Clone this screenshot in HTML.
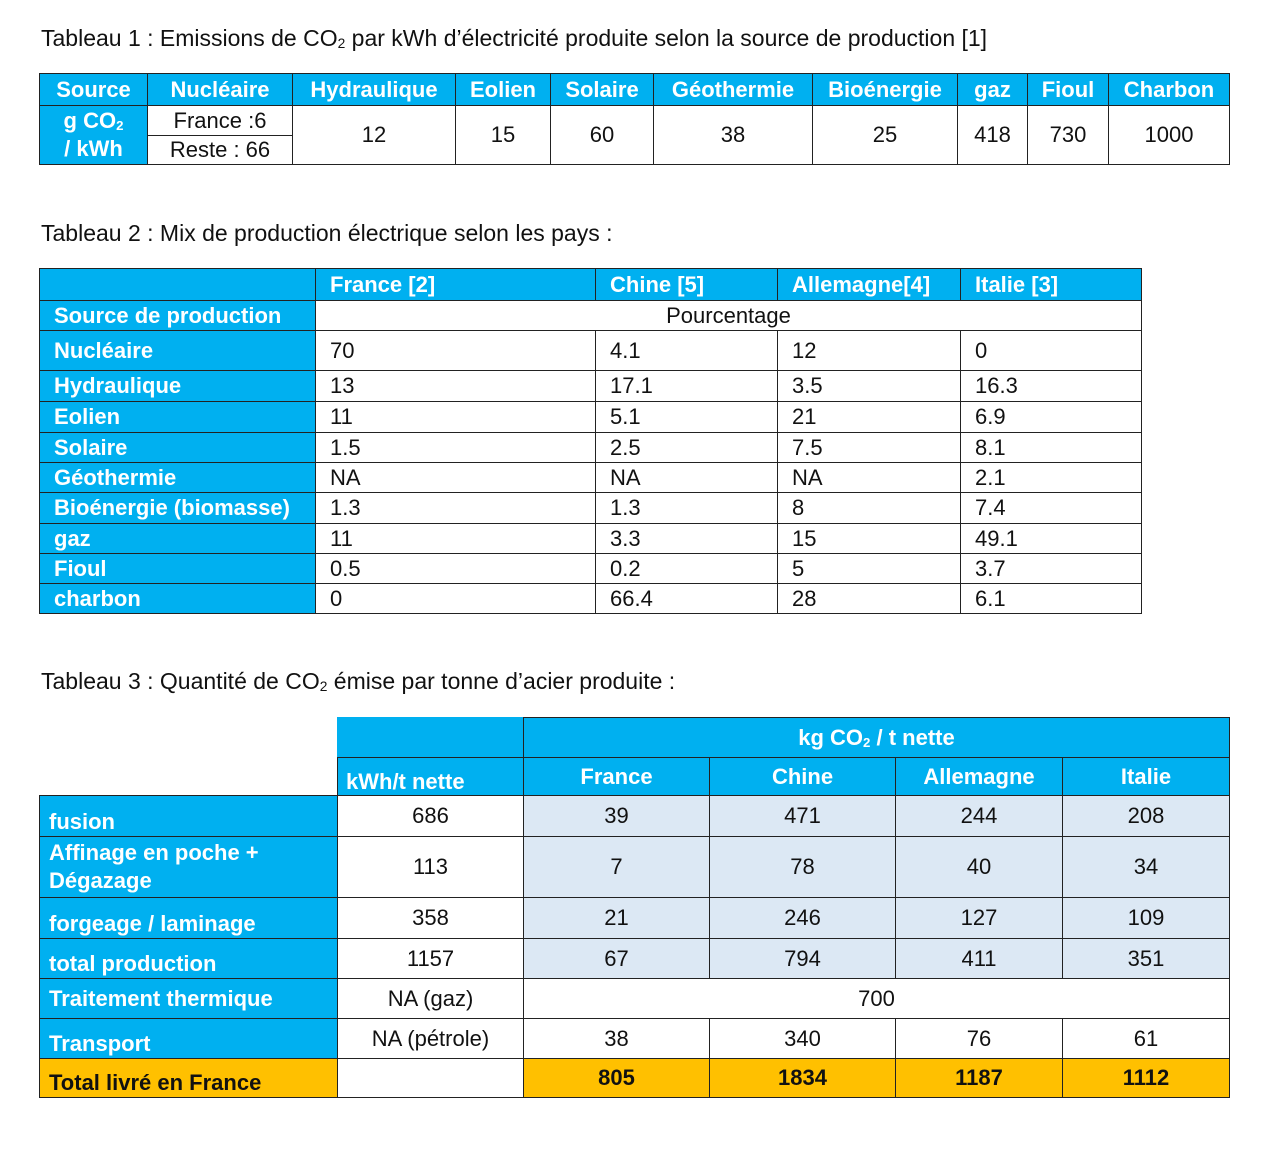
<!DOCTYPE html>
<html><head><meta charset="utf-8"><style>
body{margin:0;width:1280px;height:1153px;background:#fff;position:relative;overflow:hidden;font-family:"Liberation Sans Narrow","Liberation Sans",sans-serif;color:#111}
.t{position:absolute;font-size:23px;left:41px;white-space:nowrap}
.c{position:absolute;box-sizing:border-box;border:1.5px solid #222;display:flex;align-items:center;justify-content:center;font-size:22px;white-space:nowrap;line-height:1}
.b{background:#00b0f0;color:#fff;font-weight:bold}
.l{justify-content:flex-start;padding-left:14px}
.lb{background:#dce8f4}
.o{background:#ffc000;font-weight:bold}
sub{font-size:60%;vertical-align:-2px;line-height:0}
</style></head><body>
<div class="t" style="top:25px">Tableau 1 : Emissions de CO<sub>2</sub> par kWh d’électricité produite selon la source de production [1]</div>
<!-- table 1 -->
<div class="c b" style="left:39px;top:73px;width:109px;height:33px">Source</div>
<div class="c b" style="left:147px;top:73px;width:146px;height:33px">Nucléaire</div>
<div class="c b" style="left:292px;top:73px;width:164px;height:33px">Hydraulique</div>
<div class="c b" style="left:455px;top:73px;width:96px;height:33px">Eolien</div>
<div class="c b" style="left:550px;top:73px;width:104px;height:33px">Solaire</div>
<div class="c b" style="left:653px;top:73px;width:160px;height:33px">Géothermie</div>
<div class="c b" style="left:812px;top:73px;width:146px;height:33px">Bioénergie</div>
<div class="c b" style="left:957px;top:73px;width:71px;height:33px">gaz</div>
<div class="c b" style="left:1027px;top:73px;width:82px;height:33px">Fioul</div>
<div class="c b" style="left:1108px;top:73px;width:122px;height:33px">Charbon</div>
<div class="c b" style="left:39px;top:105px;width:109px;height:60px"><span style="display:block;text-align:center;line-height:28px">g CO<sub>2</sub><br>/ kWh</span></div>
<div class="c" style="left:147px;top:105px;width:146px;height:31px">France :6</div>
<div class="c" style="left:147px;top:135px;width:146px;height:30px">Reste : 66</div>
<div class="c" style="left:292px;top:105px;width:164px;height:60px">12</div>
<div class="c" style="left:455px;top:105px;width:96px;height:60px">15</div>
<div class="c" style="left:550px;top:105px;width:104px;height:60px">60</div>
<div class="c" style="left:653px;top:105px;width:160px;height:60px">38</div>
<div class="c" style="left:812px;top:105px;width:146px;height:60px">25</div>
<div class="c" style="left:957px;top:105px;width:71px;height:60px">418</div>
<div class="c" style="left:1027px;top:105px;width:82px;height:60px">730</div>
<div class="c" style="left:1108px;top:105px;width:122px;height:60px">1000</div>

<div class="t" style="top:220px">Tableau 2 : Mix de production électrique selon les pays :</div>
<!-- table 2 -->
<div class="c b" style="left:39px;top:268px;width:277px;height:33px"></div>
<div class="c b l" style="left:315px;top:268px;width:281px;height:33px">France [2]</div>
<div class="c b l" style="left:595px;top:268px;width:183px;height:33px">Chine [5]</div>
<div class="c b l" style="left:777px;top:268px;width:184px;height:33px">Allemagne[4]</div>
<div class="c b l" style="left:960px;top:268px;width:182px;height:33px">Italie [3]</div>
<div class="c b l" style="left:39px;top:300px;width:277px;height:31px">Source de production</div>
<div class="c" style="left:315px;top:300px;width:827px;height:31px">Pourcentage</div>

<div class="c b l" style="left:39px;top:330px;width:277px;height:41px">Nucléaire</div>
<div class="c l" style="left:315px;top:330px;width:281px;height:41px">70</div>
<div class="c l" style="left:595px;top:330px;width:183px;height:41px">4.1</div>
<div class="c l" style="left:777px;top:330px;width:184px;height:41px">12</div>
<div class="c l" style="left:960px;top:330px;width:182px;height:41px">0</div>

<div class="c b l" style="left:39px;top:370px;width:277px;height:32px">Hydraulique</div>
<div class="c l" style="left:315px;top:370px;width:281px;height:32px">13</div>
<div class="c l" style="left:595px;top:370px;width:183px;height:32px">17.1</div>
<div class="c l" style="left:777px;top:370px;width:184px;height:32px">3.5</div>
<div class="c l" style="left:960px;top:370px;width:182px;height:32px">16.3</div>

<div class="c b l" style="left:39px;top:401px;width:277px;height:32px">Eolien</div>
<div class="c l" style="left:315px;top:401px;width:281px;height:32px">11</div>
<div class="c l" style="left:595px;top:401px;width:183px;height:32px">5.1</div>
<div class="c l" style="left:777px;top:401px;width:184px;height:32px">21</div>
<div class="c l" style="left:960px;top:401px;width:182px;height:32px">6.9</div>

<div class="c b l" style="left:39px;top:432px;width:277px;height:31px">Solaire</div>
<div class="c l" style="left:315px;top:432px;width:281px;height:31px">1.5</div>
<div class="c l" style="left:595px;top:432px;width:183px;height:31px">2.5</div>
<div class="c l" style="left:777px;top:432px;width:184px;height:31px">7.5</div>
<div class="c l" style="left:960px;top:432px;width:182px;height:31px">8.1</div>

<div class="c b l" style="left:39px;top:462px;width:277px;height:31px">Géothermie</div>
<div class="c l" style="left:315px;top:462px;width:281px;height:31px">NA</div>
<div class="c l" style="left:595px;top:462px;width:183px;height:31px">NA</div>
<div class="c l" style="left:777px;top:462px;width:184px;height:31px">NA</div>
<div class="c l" style="left:960px;top:462px;width:182px;height:31px">2.1</div>

<div class="c b l" style="left:39px;top:492px;width:277px;height:32px">Bioénergie (biomasse)</div>
<div class="c l" style="left:315px;top:492px;width:281px;height:32px">1.3</div>
<div class="c l" style="left:595px;top:492px;width:183px;height:32px">1.3</div>
<div class="c l" style="left:777px;top:492px;width:184px;height:32px">8</div>
<div class="c l" style="left:960px;top:492px;width:182px;height:32px">7.4</div>

<div class="c b l" style="left:39px;top:523px;width:277px;height:31px">gaz</div>
<div class="c l" style="left:315px;top:523px;width:281px;height:31px">11</div>
<div class="c l" style="left:595px;top:523px;width:183px;height:31px">3.3</div>
<div class="c l" style="left:777px;top:523px;width:184px;height:31px">15</div>
<div class="c l" style="left:960px;top:523px;width:182px;height:31px">49.1</div>

<div class="c b l" style="left:39px;top:553px;width:277px;height:31px">Fioul</div>
<div class="c l" style="left:315px;top:553px;width:281px;height:31px">0.5</div>
<div class="c l" style="left:595px;top:553px;width:183px;height:31px">0.2</div>
<div class="c l" style="left:777px;top:553px;width:184px;height:31px">5</div>
<div class="c l" style="left:960px;top:553px;width:182px;height:31px">3.7</div>

<div class="c b l" style="left:39px;top:583px;width:277px;height:31px">charbon</div>
<div class="c l" style="left:315px;top:583px;width:281px;height:31px">0</div>
<div class="c l" style="left:595px;top:583px;width:183px;height:31px">66.4</div>
<div class="c l" style="left:777px;top:583px;width:184px;height:31px">28</div>
<div class="c l" style="left:960px;top:583px;width:182px;height:31px">6.1</div>

<div class="t" style="top:668px">Tableau 3 : Quantité de CO<sub>2</sub> émise par tonne d’acier produite :</div>
<!-- table 3 -->
<div class="c b" style="left:337px;top:717px;width:187px;height:41px;border-color:#00b0f0"></div>
<div class="c b" style="left:523px;top:717px;width:707px;height:41px"><span>kg CO<sub>2</sub> / t nette</span></div>
<div class="c b" style="left:337px;top:757px;width:187px;height:39px;justify-content:flex-start;padding-left:8px;align-items:flex-end;padding-bottom:2px">kWh/t nette</div>
<div class="c b" style="left:523px;top:757px;width:187px;height:39px">France</div>
<div class="c b" style="left:709px;top:757px;width:187px;height:39px">Chine</div>
<div class="c b" style="left:895px;top:757px;width:168px;height:39px">Allemagne</div>
<div class="c b" style="left:1062px;top:757px;width:168px;height:39px">Italie</div>

<div class="c b l" style="left:39px;top:795px;width:299px;height:42px;padding-left:9px;align-items:flex-end;padding-bottom:3px">fusion</div>
<div class="c" style="left:337px;top:795px;width:187px;height:42px">686</div>
<div class="c lb" style="left:523px;top:795px;width:187px;height:42px">39</div>
<div class="c lb" style="left:709px;top:795px;width:187px;height:42px">471</div>
<div class="c lb" style="left:895px;top:795px;width:168px;height:42px">244</div>
<div class="c lb" style="left:1062px;top:795px;width:168px;height:42px">208</div>

<div class="c b l" style="left:39px;top:836px;width:299px;height:62px;padding-left:9px"><span style="display:block;line-height:28px">Affinage en poche +<br>Dégazage</span></div>
<div class="c" style="left:337px;top:836px;width:187px;height:62px">113</div>
<div class="c lb" style="left:523px;top:836px;width:187px;height:62px">7</div>
<div class="c lb" style="left:709px;top:836px;width:187px;height:62px">78</div>
<div class="c lb" style="left:895px;top:836px;width:168px;height:62px">40</div>
<div class="c lb" style="left:1062px;top:836px;width:168px;height:62px">34</div>

<div class="c b l" style="left:39px;top:897px;width:299px;height:42px;padding-left:9px;align-items:flex-end;padding-bottom:3px">forgeage / laminage</div>
<div class="c" style="left:337px;top:897px;width:187px;height:42px">358</div>
<div class="c lb" style="left:523px;top:897px;width:187px;height:42px">21</div>
<div class="c lb" style="left:709px;top:897px;width:187px;height:42px">246</div>
<div class="c lb" style="left:895px;top:897px;width:168px;height:42px">127</div>
<div class="c lb" style="left:1062px;top:897px;width:168px;height:42px">109</div>

<div class="c b l" style="left:39px;top:938px;width:299px;height:41px;padding-left:9px;align-items:flex-end;padding-bottom:3px">total production</div>
<div class="c" style="left:337px;top:938px;width:187px;height:41px">1157</div>
<div class="c lb" style="left:523px;top:938px;width:187px;height:41px">67</div>
<div class="c lb" style="left:709px;top:938px;width:187px;height:41px">794</div>
<div class="c lb" style="left:895px;top:938px;width:168px;height:41px">411</div>
<div class="c lb" style="left:1062px;top:938px;width:168px;height:41px">351</div>

<div class="c b l" style="left:39px;top:978px;width:299px;height:41px;padding-left:9px">Traitement thermique</div>
<div class="c" style="left:337px;top:978px;width:187px;height:41px">NA (gaz)</div>
<div class="c" style="left:523px;top:978px;width:707px;height:41px">700</div>

<div class="c b l" style="left:39px;top:1018px;width:299px;height:41px;padding-left:9px;align-items:flex-end;padding-bottom:3px">Transport</div>
<div class="c" style="left:337px;top:1018px;width:187px;height:41px">NA (pétrole)</div>
<div class="c" style="left:523px;top:1018px;width:187px;height:41px">38</div>
<div class="c" style="left:709px;top:1018px;width:187px;height:41px">340</div>
<div class="c" style="left:895px;top:1018px;width:168px;height:41px">76</div>
<div class="c" style="left:1062px;top:1018px;width:168px;height:41px">61</div>

<div class="c o l" style="left:39px;top:1058px;width:299px;height:40px;padding-left:9px;align-items:flex-end;padding-bottom:3px">Total livré en France</div>
<div class="c" style="left:337px;top:1058px;width:187px;height:40px"></div>
<div class="c o" style="left:523px;top:1058px;width:187px;height:40px">805</div>
<div class="c o" style="left:709px;top:1058px;width:187px;height:40px">1834</div>
<div class="c o" style="left:895px;top:1058px;width:168px;height:40px">1187</div>
<div class="c o" style="left:1062px;top:1058px;width:168px;height:40px">1112</div>
</body></html>
